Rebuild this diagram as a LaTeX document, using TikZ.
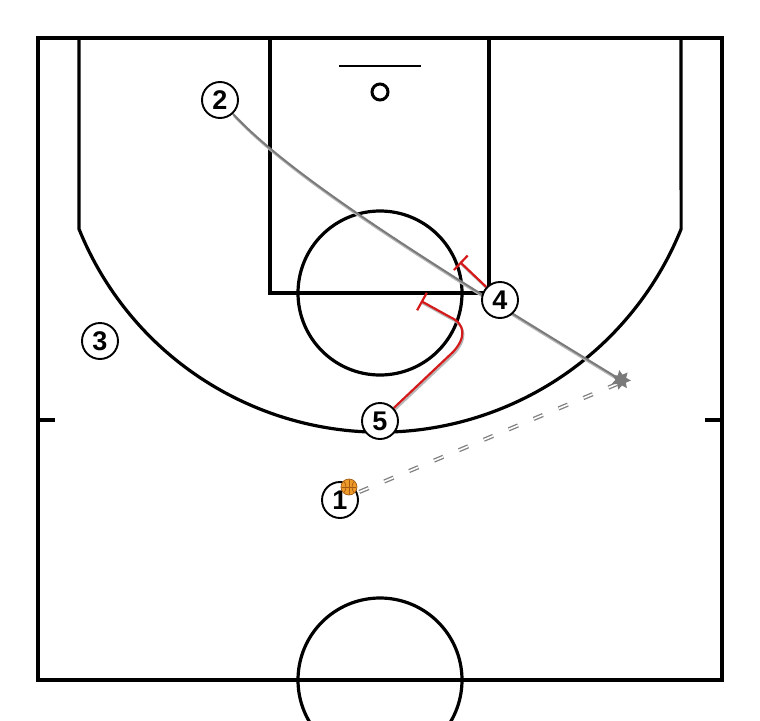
\documentclass[tikz,border=0pt]{standalone}
\usepackage{fontspec}
\setmainfont{Liberation Sans}
\usetikzlibrary{arrows.meta,shapes.geometric}
\pgfdeclarelayer{background}
\pgfsetlayers{background,main}
\definecolor{ballorange}{HTML}{EE9A2A}
\definecolor{balldark}{HTML}{A35A12}
\definecolor{screenred}{HTML}{D41A1A}
\definecolor{cutgray}{HTML}{7A7A7A}
\definecolor{shadowgray}{HTML}{B8B8B8}
\begin{document}
\begin{tikzpicture}[x=1pt,y=1pt,
  court/.style={draw=black,line width=3.2pt},
  player/.style={circle,draw=black,line width=1.9pt,fill=white,minimum size=36pt,inner sep=0pt,
    font=\fontsize{27}{27}\selectfont\bfseries},
  ballnode/.style={circle,draw=balldark,line width=0.7pt,fill=ballorange,minimum size=16pt,inner sep=0pt},
  cutline/.style={draw=cutgray,line width=2pt},
  cutshadow/.style={draw=shadowgray,line width=2.2pt,transform canvas={xshift=1pt,yshift=-2pt}},
  screenline/.style={draw=screenred,line width=2.2pt,-{Bar[width=20pt]}},
  screenshadow/.style={draw=shadowgray,line width=2pt,transform canvas={xshift=1pt,yshift=-2pt}},
  passline/.style={draw=gray,line width=1.3pt,double=white,double distance=1.6pt,dash pattern=on 10pt off 17pt,dash phase=-2pt},
  arrowstar/.style={star,star points=7,star point ratio=1.8,fill=cutgray,minimum size=20pt,inner sep=0pt,rotate=10}
]
\useasboundingbox (0,0) rectangle (760,-720);

% players
\node[player] (p1) at (340,-500) {1};
\node[player] (p2) at (220,-100) {2};
\node[player] (p3) at (100,-341) {3};
\node[player] (p4) at (500,-300) {4};
\node[player] (p5) at (380,-421) {5};
\node[ballnode] (ball) at (349,-487) {};
\begin{scope}
  \clip (ball.center) circle[radius=7.6];
  \draw[balldark,line width=0.6pt] (ball.north) -- (ball.south);
  \draw[balldark,line width=0.6pt] (ball.west) -- (ball.east);
  \draw[balldark,line width=0.6pt] (343,-480) .. controls (347,-485) and (347,-489) .. (343,-494);
  \draw[balldark,line width=0.6pt] (355,-480) .. controls (351,-485) and (351,-489) .. (355,-494);
\end{scope}

\coordinate (cutend) at (621,-380);
\coordinate (passend) at (617,-384);
\coordinate (s4) at (460,-262);
\coordinate (s5) at (421,-301);
\node[arrowstar] (tip) at (cutend) {};

\begin{pgfonlayer}{background}
  \fill[white] (0,0) rectangle (760,-720);
  \begin{scope}
    \clip (0,0) rectangle (760,-720);
    \draw[court] (38,-38) rectangle (722,-680);
    \draw[court] (270,-38) rectangle (489,-293);
    \draw[court] (380,-293) circle[radius=82];
    \draw[court,line width=2.4pt] (339,-66) -- (421,-66);
    \draw[court,line width=3pt] (380,-92) circle[radius=8];
    \draw[court] (79,-38) -- (79,-229) arc[start angle=202,end angle=338,radius=324.7] -- (681,-38);
    \draw[court] (38,-420) -- (55,-420);
    \draw[court] (705,-420) -- (722,-420);
    \draw[court] (380,-680) circle[radius=82];
  \end{scope}
  % cut of 2
  \draw[cutshadow] (p2) .. controls (290,-175) and (420,-258) .. (cutend);
  \draw[cutline] (p2) .. controls (290,-175) and (420,-258) .. (cutend);
  % pass
  \draw[passline] (p1) -- (passend);
  % screens
  \draw[screenshadow] (p4) -- (s4);
  \draw[screenline] (p4) -- (s4);
  \draw[screenshadow] (p5) -- (453,-352) .. controls (466,-338) and (466,-324) .. (450,-317) -- (s5);
  \draw[screenline] (p5) -- (453,-352) .. controls (466,-338) and (466,-324) .. (450,-317) -- (s5);
\end{pgfonlayer}
\end{tikzpicture}
\end{document}
